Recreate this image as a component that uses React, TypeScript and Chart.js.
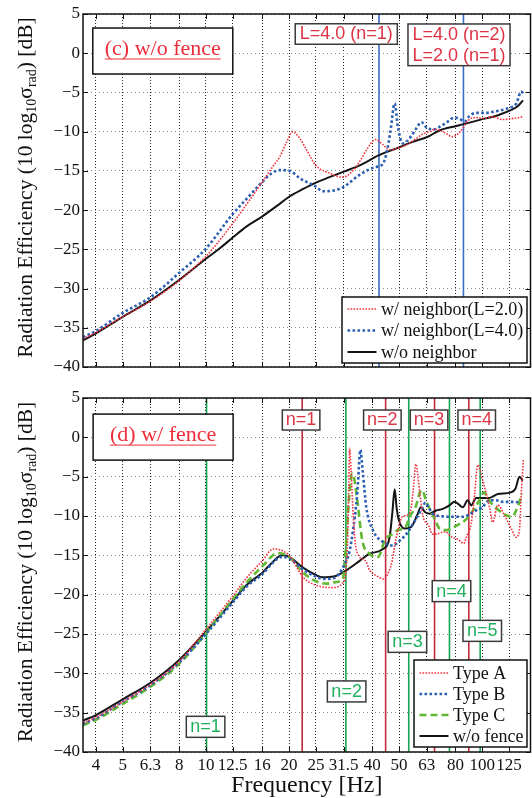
import React, { useEffect, useRef } from 'react';
import { Chart, registerables } from 'chart.js';

Chart.register(...registerables);

const SERIF = '"Liberation Serif", "Times New Roman", Times, serif';
const SANS = '"Liberation Sans", Arial, Helvetica, sans-serif';
Chart.defaults.font.family = SERIF;

// ---------------- axes ----------------
const X_MIN = 3.59;
const X_MAX = 149.5;
const Y_MIN = -40;
const Y_MAX = 5;
const xTickValues = [4, 5, 6.3, 8, 10, 12.5, 16, 20, 25, 31.5, 40, 50, 63, 80, 100, 125];
const xTickLabels = ['4', '5', '6.3', '8', '10', '12.5', '16', '20', '25', '31.5', '40', '50', '63', '80', '100', '125'];
const yTickValues = [5, 0, -5, -10, -15, -20, -25, -30, -35, -40];

// ---------------- panel (c) w/o fence ----------------
const freqC_L2 = [3.59, 4, 5, 6.3, 8, 10, 10.6, 12.5, 14.4, 16, 17.5, 18.5, 19.6, 20.6, 21.8, 23.1, 25, 28, 31.3, 34, 36, 38.5, 41.1, 43.5, 46.2, 49.5, 53.1, 57, 61, 64.5, 67.7, 71, 74.5, 77.8, 81.5, 85, 88.6, 95, 100, 109, 118.6, 130, 140.5];
const radC_L2 = [-36.4, -35.6, -33.6, -31.6, -29.0, -25.9, -24.9, -21.7, -18.7, -16.4, -14.4, -13.2, -11.3, -10.0, -10.8, -12.3, -14.3, -15.3, -15.8, -15.0, -13.8, -12.1, -11.0, -11.6, -12.3, -12.1, -11.7, -11.0, -10.3, -10.0, -9.7, -9.9, -10.3, -10.65, -10.3, -9.6, -8.6, -8.2, -8.3, -8.1, -8.45, -8.3, -8.1];

const freqC_L4 = [3.59, 4, 5, 6.3, 8, 10, 12.5, 14, 16, 17.3, 18.5, 20.1, 22, 25, 26.5, 29, 31.3, 36, 41.1, 43.5, 45, 46.5, 48.2, 49.5, 51.6, 53.1, 55.5, 57.7, 60.2, 63.5, 67, 70, 74.5, 79.4, 83, 86.2, 90, 95, 103.3, 112, 122, 128.8, 133, 138.2, 142];
const radC_L4 = [-36.2, -35.4, -33.1, -31.1, -28.0, -24.9, -20.5, -18.6, -16.4, -15.3, -14.9, -15.0, -16.0, -17.0, -17.6, -17.5, -17.1, -15.5, -14.5, -14.2, -12.8, -10.0, -6.4, -9.4, -11.5, -11.3, -10.5, -9.6, -8.8, -9.6, -9.7, -9.4, -8.8, -8.2, -8.4, -8.7, -8.0, -7.6, -7.6, -7.4, -7.1, -6.8, -6.4, -4.9, -5.3];

const freqC_none = [3.59, 4, 5, 6.3, 8, 10, 11.2, 12.5, 14, 16, 18.5, 20, 22.5, 25, 28, 31.5, 36, 42.3, 50, 56, 63.5, 70, 80, 85, 98, 114, 128, 135, 140.5];
const radC_none = [-36.6, -35.7, -33.6, -31.5, -28.9, -26.2, -24.9, -23.5, -22.1, -20.8, -19.2, -18.3, -17.3, -16.5, -15.8, -15.1, -14.3, -13.0, -12.0, -11.3, -10.65, -9.85, -9.3, -9.07, -8.5, -7.9, -7.2, -6.7, -6.0];

const modeFreqC = [42.3, 85.5];

// ---------------- panel (d) w/ fence ----------------
const freqD_A = [3.59, 4, 5, 6.3, 8, 10, 12.5, 14, 16, 17.5, 20, 22.5, 25, 28.8, 31.3, 32.4, 32.9, 33.1, 33.5, 34.0, 35.0, 37.8, 39.1, 41.5, 44.0, 46.0, 47.2, 48.6, 51.4, 53.3, 55.3, 56.5, 57.5, 59.3, 61, 64, 66, 68, 73.6, 77, 82, 85.7, 88, 91.2, 94, 96.3, 100.4, 104, 106.2, 109.1, 113.8, 120.3, 127, 132.6, 136.3, 138.5, 140.9];
const radD_A = [-36.3, -35.6, -33.6, -31.4, -28.5, -24.4, -20.2, -17.9, -15.7, -14.2, -15.0, -17.8, -18.8, -19.1, -18.5, -15.0, -6.0, -1.4, -4.0, -8.9, -14.3, -15.7, -16.9, -17.6, -18.0, -17.0, -15.7, -13.1, -10.1, -9.9, -8.9, -6.0, -3.4, -6.8, -10.0, -11.2, -12.3, -12.3, -12.0, -12.6, -13.0, -13.5, -12.5, -11.0, -7.0, -3.5, -5.5, -7.5, -8.9, -10.8, -8.6, -9.9, -11.5, -12.7, -11.8, -7.0, -2.7];

const freqD_B = [3.59, 4, 5, 6.3, 8, 10, 12.5, 14, 16, 17.5, 18.8, 20, 22.5, 25, 26.5, 29, 31.8, 33.1, 34.0, 35.0, 35.5, 36.2, 37.0, 38.05, 40.2, 43.7, 47.5, 50, 53.1, 57.7, 60.6, 62.3, 64, 66.2, 72, 78, 85, 90, 95, 99.9, 106.2, 112, 118.6, 130, 138.2];
const radD_B = [-36.4, -35.7, -33.6, -31.5, -28.6, -25.0, -21.0, -19.0, -17.4, -15.9, -15.2, -15.4, -16.8, -17.7, -18.0, -17.9, -16.1, -14.5, -12.0, -8.5, -5.8, -1.6, -4.6, -8.9, -11.8, -13.3, -13.75, -13.2, -12.3, -10.3, -9.0, -8.3, -8.9, -9.7, -10.05, -10.1, -10.1, -9.8, -9.3, -8.9, -8.0, -8.0, -8.2, -8.2, -8.3];

const freqD_C = [3.59, 4, 5, 6.3, 8, 10, 12.5, 14, 16, 18.2, 20, 22.5, 25, 27.3, 29.5, 31.3, 32.2, 33.0, 33.8, 34.5, 35.3, 36.8, 39.1, 42.0, 44.5, 47.2, 49.5, 52.8, 54.6, 57.3, 60.3, 63.2, 67.7, 70, 73.6, 76.1, 81, 87, 93, 97.7, 101.5, 105, 108.6, 115, 122, 128.2, 132.6, 139.4];
const radD_C = [-36.6, -35.9, -33.9, -31.7, -28.8, -24.9, -20.6, -18.5, -16.4, -14.7, -15.2, -17.2, -18.3, -18.6, -18.4, -18.0, -13.1, -7.5, -4.6, -5.5, -8.0, -13.1, -14.8, -15.2, -13.0, -12.3, -11.8, -11.4, -10.1, -8.9, -6.7, -8.4, -10.6, -11.6, -11.8, -11.7, -11.2, -10.5, -9.2, -8.0, -7.0, -7.8, -8.5, -9.3, -9.9, -10.1, -9.3, -7.2];

const freqD_none = [3.59, 4, 5, 6.3, 8, 10, 12.5, 14, 16, 17.5, 18.8, 20, 22.5, 25, 26.5, 29, 32.2, 36, 39.1, 43.7, 46.2, 47.3, 48.2, 49, 50, 52.4, 55.3, 58, 60, 62, 64.4, 68.1, 72, 76.1, 79.4, 82, 85, 88.6, 91.2, 95, 106, 114, 127, 132, 136.3, 140.1];
const radD_none = [-36.0, -35.3, -33.3, -31.2, -28.3, -24.7, -20.8, -18.8, -17.2, -15.8, -15.0, -15.2, -16.6, -17.5, -17.8, -17.7, -16.9, -15.7, -14.8, -14.2, -12.7, -9.5, -6.6, -9.0, -10.6, -11.6, -11.4, -10.0, -8.9, -9.5, -9.7, -9.3, -9.1, -8.65, -8.2, -8.5, -8.9, -8.0, -8.65, -7.7, -7.7, -7.2, -7.0, -6.5, -5.0, -5.5];

const redModeFreqD = [22.3, 44.7, 67.2, 89.4];
const greenModeFreqD = [10.05, 32.1, 54.2, 76.1, 98.3];
const redModeLabels = ['n=1', 'n=2', 'n=3', 'n=4'];
const redLabelFreq = [22.1, 43.5, 64.2, 95.5];
const redLabelDb = [2.2, 2.2, 2.2, 2.2];
const greenModeLabels = ['n=1', 'n=2', 'n=3', 'n=4', 'n=5'];
const greenLabelFreq = [9.97, 32.3, 53.6, 77.4, 100];
const greenLabelDb = [-36.8, -32.3, -26.0, -19.55, -24.6];

// ---------------- styles ----------------
type St = { color: string; width: number; dash: number[] };
const ST_RED: St = { color: '#f2333f', width: 1.6, dash: [1.6, 1.4] };
const ST_BLUE: St = { color: '#2b5fb3', width: 2.6, dash: [2.6, 2.4] };
const ST_GREEN: St = { color: '#62b832', width: 2.6, dash: [7, 4] };
const ST_BLACK: St = { color: '#141414', width: 2, dash: [] };
const TITLE_RED = '#ee2d3a';
const LABEL_RED = '#dc3445';
const LABEL_GREEN = '#20b05c';
const LINE_RED = '#c4283a';
const LINE_GREEN = '#17a452';
const LINE_BLUE = '#3a6ec2';

function series(label: string, freqs: number[], vals: number[], st: St) {
  return {
    label,
    data: freqs.map((f, i) => ({ x: f, y: vals[i] })),
    borderColor: st.color,
    backgroundColor: st.color,
    borderWidth: st.width,
    borderDash: st.dash,
    borderCapStyle: 'butt',
    pointRadius: 0,
    fill: false,
    cubicInterpolationMode: 'monotone',
  };
}

type Anno = {
  text: string[];
  f: number;
  db: number;
  color: string;
  font: string;
  w?: number;
  h?: number;
  padX?: number;
  lineH?: number;
  underline?: boolean;
  border?: string;
};

function drawAnno(ctx: CanvasRenderingContext2D, an: Anno, cx: number, cy: number) {
  ctx.save();
  ctx.font = an.font;
  const lineH = an.lineH ?? 20.5;
  let tw = 0;
  for (const t of an.text) tw = Math.max(tw, ctx.measureText(t).width);
  const w = an.w ?? tw + 2 * (an.padX ?? 4);
  const h = an.h ?? an.text.length * lineH;
  const x0 = cx - w / 2;
  const y0 = cy - h / 2;
  ctx.fillStyle = '#ffffff';
  ctx.fillRect(x0, y0, w, h);
  ctx.strokeStyle = an.border ?? '#3a3a3a';
  ctx.lineWidth = 1.5;
  ctx.setLineDash([]);
  ctx.strokeRect(x0, y0, w, h);
  ctx.fillStyle = an.color;
  ctx.textAlign = 'center';
  ctx.textBaseline = 'middle';
  an.text.forEach((t, i) => {
    const ty = cy + (i - (an.text.length - 1) / 2) * lineH + (an.underline ? -1.5 : 0.5);
    ctx.fillText(t, cx, ty);
    if (an.underline) {
      const m = ctx.measureText(t).width;
      ctx.strokeStyle = an.color;
      ctx.lineWidth = 1;
      ctx.beginPath();
      ctx.moveTo(cx - m / 2, ty + 9.5);
      ctx.lineTo(cx + m / 2, ty + 9.5);
      ctx.stroke();
    }
  });
  ctx.restore();
}

type Legend = {
  items: { label: string; st: St }[];
  width: number;
  height: number;
  insetR: number;
  insetB: number;
  firstRow: number;
  rowStep: number;
};

function drawLegend(ctx: CanvasRenderingContext2D, a: any, lg: Legend) {
  ctx.save();
  const x0 = a.right - lg.insetR - lg.width;
  const y0 = a.bottom - lg.insetB - lg.height;
  ctx.fillStyle = '#fff';
  ctx.fillRect(x0, y0, lg.width, lg.height);
  ctx.strokeStyle = '#111';
  ctx.lineWidth = 1.5;
  ctx.setLineDash([]);
  ctx.strokeRect(x0, y0, lg.width, lg.height);
  lg.items.forEach((it, i) => {
    const cy = y0 + lg.firstRow + i * lg.rowStep;
    ctx.strokeStyle = it.st.color;
    ctx.lineWidth = it.st.width;
    ctx.setLineDash(it.st.dash);
    ctx.lineCap = 'butt';
    ctx.beginPath();
    ctx.moveTo(x0 + 5.5, cy);
    ctx.lineTo(x0 + 34.5, cy);
    ctx.stroke();
    ctx.setLineDash([]);
    ctx.fillStyle = '#111';
    ctx.font = `18px ${SERIF}`;
    ctx.textAlign = 'left';
    ctx.textBaseline = 'middle';
    ctx.fillText(it.label, x0 + 39, cy + 1);
  });
  ctx.restore();
}

function drawYTitle(ctx: CanvasRenderingContext2D, x: number, cy: number) {
  const parts = [
    { t: 'Radiation Efficiency (10 log', sub: false },
    { t: '10', sub: true },
    { t: 'σ', sub: false },
    { t: 'rad', sub: true },
    { t: ') [dB]', sub: false },
  ];
  const fs = 21.5;
  const ss = 14;
  ctx.save();
  let total = 0;
  const widths = parts.map((p) => {
    ctx.font = `${p.sub ? ss : fs}px ${SERIF}`;
    const w = ctx.measureText(p.t).width;
    total += w;
    return w;
  });
  ctx.translate(x, cy);
  ctx.rotate(-Math.PI / 2);
  ctx.fillStyle = '#111';
  ctx.textAlign = 'left';
  ctx.textBaseline = 'alphabetic';
  let u = -total / 2;
  parts.forEach((p, i) => {
    ctx.font = `${p.sub ? ss : fs}px ${SERIF}`;
    ctx.fillText(p.t, u, p.sub ? 4.5 : 0);
    u += widths[i];
  });
  ctx.restore();
}

function makePanelPlugin(p: {
  id: string;
  vlines: { f: number; color: string }[];
  annos: Anno[];
  legend: Legend;
  xTitle: boolean;
}) {
  return {
    id: p.id,
    beforeDatasetsDraw(chart: any) {
      const { ctx, chartArea: a } = chart;
      const xs = chart.scales.x;
      ctx.save();
      ctx.beginPath();
      ctx.rect(a.left, a.top, a.right - a.left, a.bottom - a.top);
      ctx.clip();
      for (const v of p.vlines) {
        const px = xs.getPixelForValue(v.f);
        ctx.strokeStyle = v.color;
        ctx.lineWidth = 1.6;
        ctx.setLineDash([]);
        ctx.beginPath();
        ctx.moveTo(px, a.top);
        ctx.lineTo(px, a.bottom);
        ctx.stroke();
      }
      ctx.restore();
    },
    afterDatasetsDraw(chart: any) {
      const { ctx, chartArea: a } = chart;
      const xs = chart.scales.x;
      const ys = chart.scales.y;
      ctx.save();
      ctx.setLineDash([]);
      ctx.strokeStyle = '#111';
      ctx.lineWidth = 1;
      ctx.beginPath();
      for (const v of xTickValues) {
        const px = Math.round(xs.getPixelForValue(v)) + 0.5;
        ctx.moveTo(px, a.bottom);
        ctx.lineTo(px, a.bottom - 5);
        ctx.moveTo(px, a.top);
        ctx.lineTo(px, a.top + 5);
      }
      for (const v of yTickValues) {
        const py = Math.round(ys.getPixelForValue(v)) + 0.5;
        ctx.moveTo(a.left, py);
        ctx.lineTo(a.left + 5, py);
        ctx.moveTo(a.right, py);
        ctx.lineTo(a.right - 5, py);
      }
      ctx.stroke();
      ctx.lineWidth = 1.5;
      ctx.strokeRect(a.left, a.top, a.right - a.left, a.bottom - a.top);
      ctx.restore();

      for (const an of p.annos) drawAnno(ctx, an, xs.getPixelForValue(an.f), ys.getPixelForValue(an.db));
      drawLegend(ctx, a, p.legend);
      drawYTitle(ctx, 31.5, (a.top + a.bottom) / 2 - 3);
      if (p.xTitle) {
        ctx.save();
        ctx.font = `24px ${SERIF}`;
        ctx.fillStyle = '#111';
        ctx.textAlign = 'center';
        ctx.textBaseline = 'alphabetic';
        ctx.fillText('Frequency [Hz]', (a.left + a.right) / 2, 401.5);
        ctx.restore();
      }
    },
  };
}

function makeOptions(showX: boolean, padding: any, xHeight: number) {
  return {
    responsive: false,
    animation: false,
    events: [],
    layout: { padding },
    plugins: {
      legend: { display: false },
      tooltip: { enabled: false },
      title: { display: false },
    },
    scales: {
      x: {
        type: 'logarithmic',
        min: X_MIN,
        max: X_MAX,
        bounds: 'data',
        afterBuildTicks: (s: any) => {
          s.ticks = xTickValues.map((v) => ({ value: v }));
        },
        afterFit: (s: any) => {
          s.height = xHeight;
          s.paddingLeft = 0;
          s.paddingRight = 0;
        },
        ticks: {
          display: showX,
          autoSkip: false,
          maxRotation: 0,
          minRotation: 0,
          padding: 3,
          color: '#111',
          font: { family: SERIF, size: 17 },
          callback: (_v: any, i: number) => xTickLabels[i],
        },
        grid: { drawTicks: false, color: '#222', lineWidth: 1 },
        border: { display: false, dash: [1, 2] },
      },
      y: {
        type: 'linear',
        min: Y_MIN,
        max: Y_MAX,
        afterBuildTicks: (s: any) => {
          s.ticks = yTickValues.map((v) => ({ value: v }));
        },
        afterFit: (s: any) => {
          s.width = 83;
          s.paddingTop = 0;
          s.paddingBottom = 0;
        },
        ticks: {
          padding: 3,
          color: '#111',
          font: { family: SERIF, size: 17 },
          callback: (v: any) => (Number(v) < 0 ? '\u2212' + Math.abs(Number(v)) : String(v)),
        },
        grid: { drawTicks: false, color: '#8a8a8a', lineWidth: 1 },
        border: { display: false, dash: [1, 3] },
      },
    },
  };
}

export default function App() {
  const topRef = useRef<HTMLCanvasElement>(null);
  const botRef = useRef<HTMLCanvasElement>(null);

  useEffect(() => {
    const topPlugin = makePanelPlugin({
      id: 'panelC',
      vlines: modeFreqC.map((f) => ({ f, color: LINE_BLUE })),
      annos: [
        { text: ['(c) w/o fence'], f: 6.98, db: 0.28, color: TITLE_RED, font: `22px ${SERIF}`, w: 140, h: 46, underline: true, border: '#111' },
        { text: ['L=4.0 (n=1)'], f: 32.2, db: 2.45, color: LABEL_RED, font: `18px ${SANS}`, padX: 4.5, h: 20.5 },
        { text: ['L=4.0 (n=2)', 'L=2.0 (n=1)'], f: 82.4, db: 1.07, color: LABEL_RED, font: `18px ${SANS}`, padX: 4.5, h: 41.7, lineH: 20.5 },
      ],
      legend: {
        items: [
          { label: 'w/ neighbor(L=2.0)', st: ST_RED },
          { label: 'w/ neighbor(L=4.0)', st: ST_BLUE },
          { label: 'w/o neighbor', st: ST_BLACK },
        ],
        width: 185,
        height: 66,
        insetR: 3.5,
        insetB: 4,
        firstRow: 12,
        rowStep: 21.5,
      },
      xTitle: false,
    });

    const botAnnos: Anno[] = [
      { text: ['(d) w/ fence'], f: 7.0, db: 0.03, color: TITLE_RED, font: `22px ${SERIF}`, w: 140, h: 46, underline: true, border: '#111' },
    ];
    redModeLabels.forEach((t, i) =>
      botAnnos.push({ text: [t], f: redLabelFreq[i], db: redLabelDb[i], color: LABEL_RED, font: `18px ${SANS}`, padX: 3.5, h: 20 })
    );
    greenModeLabels.forEach((t, i) =>
      botAnnos.push({ text: [t], f: greenLabelFreq[i], db: greenLabelDb[i], color: LABEL_GREEN, font: `18px ${SANS}`, padX: 4, h: 21 })
    );

    const botPlugin = makePanelPlugin({
      id: 'panelD',
      vlines: [
        ...redModeFreqD.map((f) => ({ f, color: LINE_RED })),
        ...greenModeFreqD.map((f) => ({ f, color: LINE_GREEN })),
      ],
      annos: botAnnos,
      legend: {
        items: [
          { label: 'Type A', st: ST_RED },
          { label: 'Type B', st: ST_BLUE },
          { label: 'Type C', st: ST_GREEN },
          { label: 'w/o fence', st: ST_BLACK },
        ],
        width: 113,
        height: 87,
        insetR: 3.5,
        insetB: 5,
        firstRow: 13,
        rowStep: 21,
      },
      xTitle: true,
    });

    const c1 = new Chart(topRef.current as HTMLCanvasElement, {
      type: 'line',
      data: {
        datasets: [
          series('w/ neighbor(L=2.0)', freqC_L2, radC_L2, ST_RED),
          series('w/ neighbor(L=4.0)', freqC_L4, radC_L4, ST_BLUE),
          series('w/o neighbor', freqC_none, radC_none, ST_BLACK),
        ] as any,
      },
      options: makeOptions(false, { top: 14, right: 1.5, bottom: 23, left: 0 }, 0) as any,
      plugins: [topPlugin as any],
    });

    const c2 = new Chart(botRef.current as HTMLCanvasElement, {
      type: 'line',
      data: {
        datasets: [
          series('Type A', freqD_A, radD_A, ST_RED),
          series('Type B', freqD_B, radD_B, ST_BLUE),
          series('Type C', freqD_C, radD_C, ST_GREEN),
          series('w/o fence', freqD_none, radD_none, ST_BLACK),
        ] as any,
      },
      options: makeOptions(true, { top: 8, right: 1.5, bottom: 0, left: 0 }, 46) as any,
      plugins: [botPlugin as any],
    });

    return () => {
      c1.destroy();
      c2.destroy();
    };
  }, []);

  return (
    <div style={{ position: 'absolute', left: 0, top: 0, width: 532, height: 798, background: '#fff' }}>
      <canvas ref={topRef} width={532} height={390} style={{ position: 'absolute', left: 0, top: 0, width: 532, height: 390 }} />
      <canvas ref={botRef} width={532} height={408} style={{ position: 'absolute', left: 0, top: 390, width: 532, height: 408 }} />
    </div>
  );
}
